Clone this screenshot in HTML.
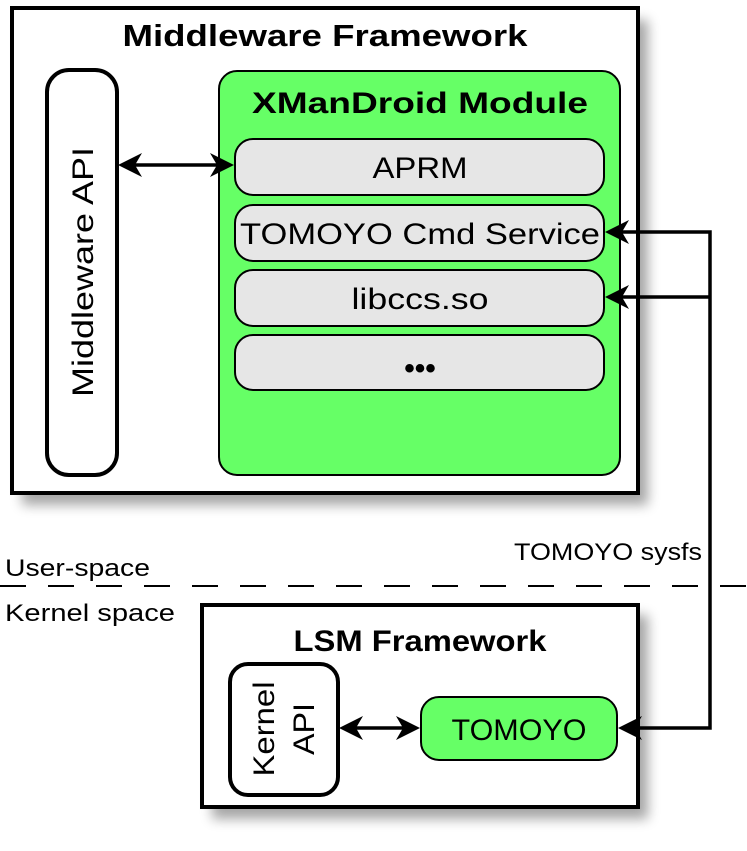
<!DOCTYPE html>
<html><head><style>html,body{margin:0;padding:0;background:#fff}svg{display:block}</style></head><body>
<svg width="747" height="851" viewBox="0 0 747 851" xmlns="http://www.w3.org/2000/svg" font-family="Liberation Sans, sans-serif">
<defs>
<filter id="sh" x="-10%" y="-10%" width="130%" height="130%"><feGaussianBlur stdDeviation="6"/></filter>
<path id="al" d="M0,0 L24,-12 L17,0 L24,12 Z" fill="#000"/>
<path id="ar" d="M0,0 L-24,-12 L-17,0 L-24,12 Z" fill="#000"/>
</defs>
<rect x="22" y="20" width="626" height="485" fill="#000" opacity="0.35" filter="url(#sh)"/>
<rect x="212" y="615" width="436" height="204" fill="#000" opacity="0.35" filter="url(#sh)"/>
<rect x="12" y="8" width="626" height="485" fill="#fff" stroke="#000" stroke-width="4"/>
<text x="325" y="46" font-size="31" font-weight="bold" text-anchor="middle" textLength="405" lengthAdjust="spacingAndGlyphs">Middleware Framework</text>
<rect x="47" y="70" width="70" height="405" rx="22" fill="#fff" stroke="#000" stroke-width="4"/>
<text transform="translate(93,272) rotate(-90)" font-size="30" text-anchor="middle" textLength="250" lengthAdjust="spacingAndGlyphs">Middleware API</text>
<rect x="219" y="71" width="401" height="404" rx="18" fill="#66ff66" stroke="#000" stroke-width="2"/>
<text x="420" y="113" font-size="30" font-weight="bold" text-anchor="middle" textLength="336" lengthAdjust="spacingAndGlyphs">XManDroid Module</text>
<g fill="#e6e6e6" stroke="#000" stroke-width="2">
<rect x="235" y="139" width="369" height="56" rx="18"/>
<rect x="235" y="205" width="369" height="56" rx="18"/>
<rect x="235" y="270" width="369" height="56" rx="18"/>
<rect x="235" y="335" width="369" height="55" rx="18"/>
</g>
<g font-size="30" text-anchor="middle">
<text x="420" y="178" textLength="95" lengthAdjust="spacingAndGlyphs">APRM</text>
<text x="420" y="244" textLength="360" lengthAdjust="spacingAndGlyphs">TOMOYO Cmd Service</text>
<text x="420" y="309" textLength="137" lengthAdjust="spacingAndGlyphs">libccs.so</text>
<text x="420" y="378" font-weight="bold">•••</text>
</g>
<line x1="130" y1="165" x2="222" y2="165" stroke="#000" stroke-width="3.5"/>
<use href="#al" x="118" y="165"/>
<use href="#ar" x="234" y="165"/>
<line x1="0" y1="586" x2="747" y2="586" stroke="#000" stroke-width="2" stroke-dasharray="26,22"/>
<text x="5" y="576" font-size="24" textLength="145" lengthAdjust="spacingAndGlyphs">User-space</text>
<text x="5" y="621" font-size="24" textLength="170" lengthAdjust="spacingAndGlyphs">Kernel space</text>
<text x="702" y="560" font-size="24" text-anchor="end" textLength="188" lengthAdjust="spacingAndGlyphs">TOMOYO sysfs</text>
<rect x="202" y="605" width="436" height="202" fill="#fff" stroke="#000" stroke-width="4"/>
<text x="420" y="651" font-size="30" font-weight="bold" text-anchor="middle" textLength="253" lengthAdjust="spacingAndGlyphs">LSM Framework</text>
<rect x="230" y="664" width="108" height="131" rx="18" fill="#fff" stroke="#000" stroke-width="4"/>
<text transform="translate(274,729) rotate(-90)" font-size="30" text-anchor="middle" textLength="95" lengthAdjust="spacingAndGlyphs">Kernel</text>
<text transform="translate(314,729) rotate(-90)" font-size="30" text-anchor="middle" textLength="52" lengthAdjust="spacingAndGlyphs">API</text>
<rect x="421" y="697" width="196" height="63" rx="18" fill="#66ff66" stroke="#000" stroke-width="2"/>
<text x="519" y="740" font-size="30" text-anchor="middle" textLength="135" lengthAdjust="spacingAndGlyphs">TOMOYO</text>
<line x1="350" y1="728" x2="408" y2="728" stroke="#000" stroke-width="3.5"/>
<use href="#al" x="339" y="728"/>
<use href="#ar" x="420" y="728"/>
<path d="M618,232 L710,232 L710,728 L630,728" fill="none" stroke="#000" stroke-width="3.5"/>
<line x1="710" y1="297" x2="618" y2="297" stroke="#000" stroke-width="3.5"/>
<use href="#al" x="605" y="232"/>
<use href="#al" x="605" y="297"/>
<use href="#al" x="618" y="728"/>
</svg>
</body></html>
